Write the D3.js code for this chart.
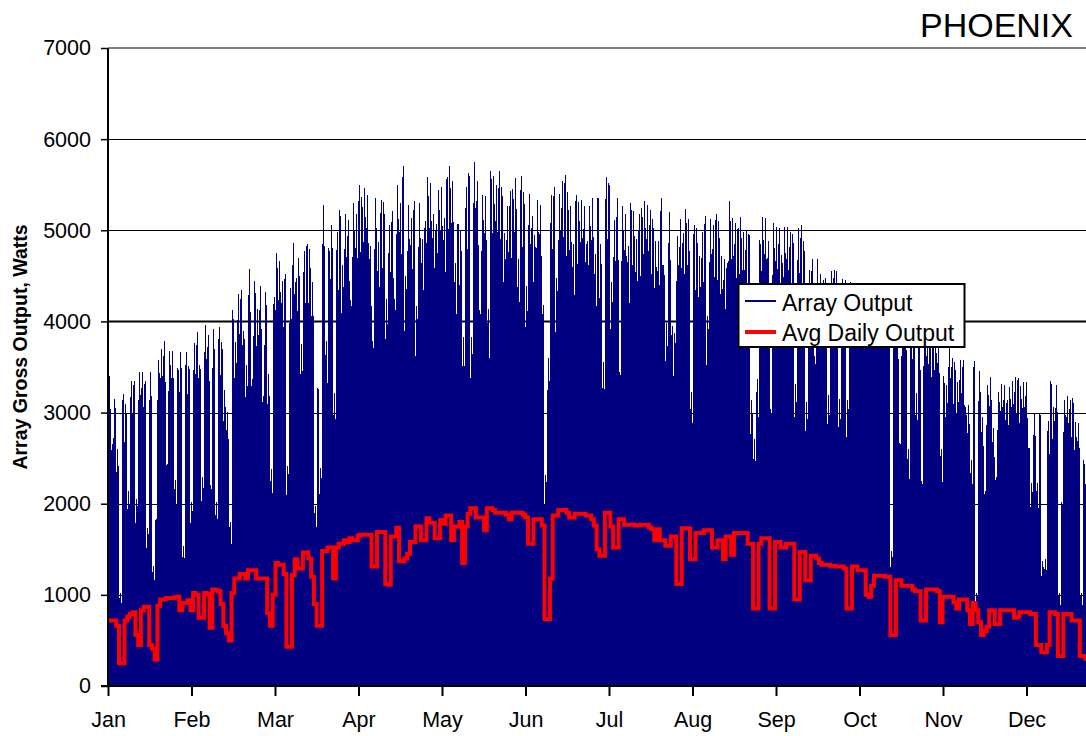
<!DOCTYPE html>
<html><head><meta charset="utf-8">
<script src="https://cdn.jsdelivr.net/npm/d3@7"></script>
<style>html,body{margin:0;padding:0;background:#fff;overflow:hidden}</style>
</head><body>
<svg id="chart" width="1086" height="736"></svg>
<script>
// ---- data ----
const chartTitle = "PHOENIX";
const yTitle = "Array Gross Output, Watts";
const months = ["Jan","Feb","Mar","Apr","May","Jun","Jul","Aug","Sep","Oct","Nov","Dec"];
const yTicks = [0,1000,2000,3000,4000,5000,6000,7000];
const seriesNames = ["Array Output","Avg Daily Output"];
const hoursPerYear = 8760;
const hoursPerDay = 24;

// daily peak of hourly array output (W), one value per day from 1 Jan
const peakWatts = [
3400,2650,3150,2600,1020,3200,3090,2140,3350,3350,2050,3450,3450,3350,1730,3440,1320,1840,3580,3700,3790,2450,3680,3680,2260,3500,3660,1540,3660,3520,2020,3760,3880,3520,2290,3960,3850,2200,3920,2020,3940,3770,3250,3010,
1800,4120,3770,4300,4350,3900,3520,4580,3370,4440,4140,4390,3180,4320,3420,2380,4270,4750,4660,4440,4520,2410,4370,4860,4480,4700,3750,4770,4870,4790,4430,1980,3290,2390,5280,3790,4830,5060,3220,4980,5220,4620,5180,5110,4230,
5300,5180,5500,5370,5460,5390,4830,3790,5350,4870,5330,5310,4250,5060,5210,4250,5500,5300,5700,4500,5280,5130,5320,4170,5300,4900,5100,5580,5520,5180,5070,5440,5470,5140,5610,5700,5540,4640,5100,5000,3830,5480,5650,3830,5750,
5540,4140,5390,5380,4140,5650,5600,5500,5650,5470,4970,5270,5430,5450,5570,4680,5600,5420,4390,5400,5160,4950,5330,5280,4180,2310,3600,5390,5480,4480,5400,5540,5610,5420,5270,4850,5390,5310,5330,5270,4900,5270,5350,4740,5390,
4850,3560,5590,5540,4430,5110,5350,3450,5270,5180,4830,5300,5210,4900,5180,5250,5320,5280,5220,5120,4880,4880,5350,4620,3980,5200,3950,3870,4940,5120,4970,5230,5120,3230,5060,5020,4720,4980,5160,4060,5120,5060,5180,5100,4720,
4680,4640,5320,5130,5080,5060,5150,4980,5000,4990,3140,2710,3370,4900,5150,5140,4880,3040,5080,5040,5020,4730,5040,5040,4980,4960,3310,5020,5060,4880,3120,4560,4680,3620,4680,4520,4450,4480,3190,4550,4560,4550,3150,4470,4460,
3140,4430,4400,4420,4350,4300,4380,4300,4250,4320,4280,4200,4250,4200,4220,4150,1480,4150,4100,2680,4100,4050,2600,4000,4050,3210,3980,2250,3950,3900,3920,3850,3880,3800,2600,3400,3300,3750,3600,3550,3330,3580,3580,3060,
3080,2480,3570,1020,3460,2950,2140,3300,3390,2830,2290,3230,3310,3300,3140,3280,3350,3390,3390,3290,3330,3340,2630,2230,3000,2230,2990,1370,1390,2910,3350,3060,3300,1020,2020,3140,3180,3140,3160,2900,2890,1020,2480,2480
];

// average daily output (W), one value per day from 1 Jan
const avgWatts = [
720,720,720,660,250,250,720,760,790,810,560,450,830,870,870,450,410,290,880,950,950,965,965,965,970,980,830,910,910,940,830,1020,1000,750,750,1020,1010,640,1060,1050,1040,900,660,580,
500,1020,1180,1180,1230,1230,1180,1270,1270,1270,1180,1180,1180,1180,800,660,1000,1350,1330,1330,1230,430,430,1215,1390,1290,1290,1465,1465,1400,1200,900,660,660,1480,1480,1520,1520,1180,1520,1560,1560,1600,1580,1620,
1600,1600,1650,1660,1660,1660,1660,1310,1310,1690,1690,1690,1120,1110,1640,1640,1735,1370,1370,1400,1450,1580,1580,1750,1750,1600,1600,1840,1790,1790,1620,1620,1820,1780,1870,1870,1600,1750,1750,1800,1350,1750,1890,1950,1950,
1850,1850,1850,1710,1950,1950,1930,1900,1900,1900,1900,1880,1830,1900,1900,1900,1900,1880,1850,1560,1560,1830,1830,1830,1760,735,735,1180,1870,1870,1930,1930,1930,1900,1850,1850,1890,1890,1890,1890,1870,1870,1830,1760,1500,
1430,1430,1900,1900,1750,1520,1520,1830,1830,1770,1770,1770,1770,1760,1760,1770,1770,1770,1740,1720,1600,1720,1600,1600,1540,1540,1640,1640,1120,1120,1730,1730,1730,1390,1390,1680,1680,1680,1710,1710,1710,1520,1520,1600,1600,
1390,1640,1640,1440,1680,1680,1680,1680,1680,1560,1560,850,850,1560,1620,1620,1620,850,850,1580,1580,1520,1520,1560,1560,1560,950,950,1470,1470,1160,1160,1430,1430,1400,1350,1330,1330,1330,1320,1320,1310,1310,1310,1290,
850,850,1310,1310,1270,1270,1270,1000,980,1100,1210,1210,1210,1210,1200,1200,560,560,1160,1160,1100,1100,1100,1100,1060,1040,1040,720,720,1060,1060,1060,1060,1040,700,980,980,980,980,920,850,950,950,950,
830,680,910,830,700,560,600,650,830,830,680,680,830,830,830,830,830,750,760,810,810,810,810,790,790,450,450,370,370,450,810,810,790,330,330,790,790,790,720,720,720,330,330,300
];

// ---- layout ----
const font = "'Liberation Sans', Arial, Helvetica, sans-serif";
const NAVY = "#000080", RED = "#ff0000";
const svg = d3.select("#chart");
const x = d3.scaleLinear().domain([0, hoursPerYear]).range([108, 1110]);
const y = d3.scaleLinear().domain([0, 7000]).range([686, 48]);

svg.append("defs").append("clipPath").attr("id","plotClip")
  .append("rect").attr("x",108).attr("y",40).attr("width",1010).attr("height",647);

// gridlines
svg.append("g").selectAll("line").data(yTicks.filter(v => v > 0 && v < 7000)).join("line")
  .attr("x1", x(0)).attr("x2", x(hoursPerYear))
  .attr("y1", d => Math.round(y(d)) + 0.5).attr("y2", d => Math.round(y(d)) + 0.5)
  .attr("stroke", "#000").attr("stroke-width", d => d === 4000 ? 2 : 1);
// top border line (7000)
svg.append("line").attr("x1", x(0)).attr("x2", x(hoursPerYear))
  .attr("y1", y(7000)).attr("y2", y(7000)).attr("stroke", "#808080").attr("stroke-width", 2);

// Array output: one comb tooth per day (rises to the day's peak mid-day,
// shoulders at the day boundaries like the overlapping hourly strokes)
const shoulder = 0.86;
const combPts = [];
peakWatts.forEach((v, i) => {
  const h0 = i * hoursPerDay;
  combPts.push([h0, v * shoulder], [h0 + 8, v], [h0 + 16, v], [h0 + hoursPerDay, v * shoulder]);
});
const avgPts = avgWatts.map((v,i) => [i*hoursPerDay, v]);
avgPts.push([avgWatts.length*hoursPerDay, avgWatts[avgWatts.length-1]]);

const plot = svg.append("g").attr("clip-path","url(#plotClip)");
plot.append("path").datum(combPts)
  .attr("d", d3.area().x(d => x(d[0])).y0(y(0)).y1(d => y(d[1])))
  .attr("fill", NAVY).attr("shape-rendering", "crispEdges");
plot.append("path").datum(avgPts)
  .attr("d", d3.line().curve(d3.curveStepAfter).x(d => x(d[0])).y(d => y(d[1])))
  .attr("fill", "none").attr("stroke", RED).attr("stroke-width", 4).attr("stroke-linejoin","miter");

// y axis
const yAxis = svg.append("g").attr("transform", `translate(${x(0)},0)`)
  .call(d3.axisLeft(y).tickValues(yTicks).tickSize(7).tickPadding(10).tickFormat(d3.format("d")));
yAxis.select(".domain").attr("stroke","#000").attr("stroke-width",2).attr("d", `M0,${y(7000)}V${y(0)}`);
yAxis.selectAll(".tick line").attr("stroke","#000").attr("stroke-width",1.5);
yAxis.selectAll("text").attr("font-family", font).attr("font-size", 21.5).attr("fill","#000");

// x axis
const monthTicks = months.map((m,i) => i * hoursPerYear / 12);
const xAxis = svg.append("g").attr("transform", `translate(0,${y(0)})`)
  .call(d3.axisBottom(x).tickValues(monthTicks).tickSize(10).tickPadding(16)
    .tickFormat((d,i) => months[i]));
xAxis.select(".domain").attr("stroke","#000").attr("stroke-width",2).attr("d", `M${x(0)-7},0H${x(hoursPerYear)}`);
xAxis.selectAll(".tick line").attr("stroke","#000").attr("stroke-width",2);
xAxis.selectAll("text").attr("font-family", font).attr("font-size", 21.5).attr("fill","#000");

// title
svg.append("text").attr("x", 1073).attr("y", 37).attr("text-anchor","end")
  .attr("font-family", font).attr("font-size", 34).attr("fill","#000").text(chartTitle);

// y axis title
svg.append("text").attr("transform","translate(27,347) rotate(-90)").attr("text-anchor","middle")
  .attr("font-family", font).attr("font-size", 19.5).attr("font-weight","bold").attr("fill","#000").text(yTitle);

// legend
const lg = svg.append("g");
lg.append("rect").attr("x",738.5).attr("y",284).attr("width",226).attr("height",63)
  .attr("fill","#fff").attr("stroke","#000").attr("stroke-width",2);
const legendItems = [
  {name: seriesNames[0], color: NAVY, w: 2, ly: 301, ty: 311},
  {name: seriesNames[1], color: RED, w: 4, ly: 332, ty: 340.5}
];
legendItems.forEach(it => {
  lg.append("line").attr("x1",745).attr("x2",776).attr("y1",it.ly).attr("y2",it.ly)
    .attr("stroke", it.color).attr("stroke-width", it.w);
  lg.append("text").attr("x",782).attr("y",it.ty).attr("font-family",font).attr("font-size",23)
    .attr("fill","#000").text(it.name);
});
</script>
</body></html>
